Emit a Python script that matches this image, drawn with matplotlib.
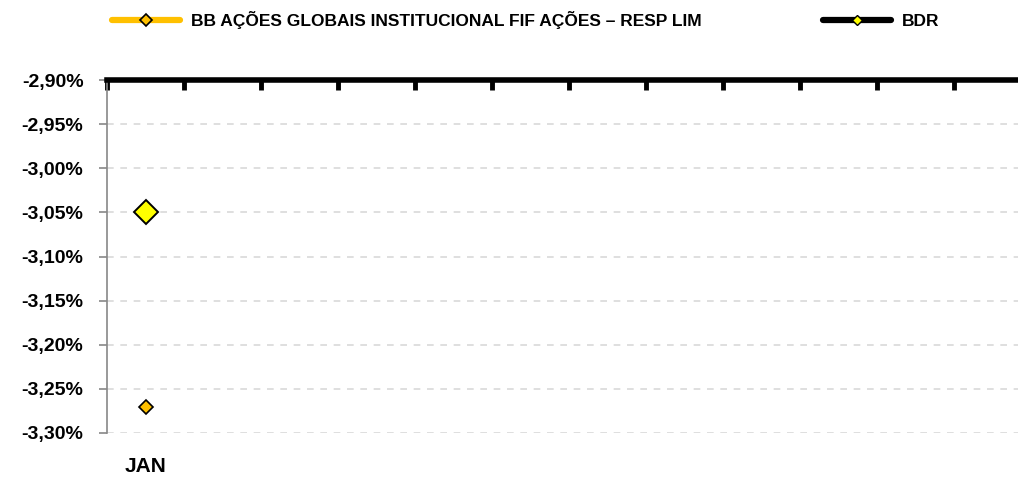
import matplotlib
matplotlib.use("Agg")
from matplotlib import pyplot as plt
from matplotlib.lines import Line2D
from matplotlib.ticker import FuncFormatter, FixedLocator
import numpy as np

plt.rcParams['font.family'] = ['Liberation Sans', 'DejaVu Sans']
plt.rcParams['font.weight'] = 'bold'

meses = ['JAN', '', '', '', '', '', '', '', '', '', '', '']
fundo = [-3.27]
bdr = [-3.05]
nome_fundo = 'BB AÇÕES GLOBAIS INSTITUCIONAL FIF AÇÕES – RESP LIM'
nome_bdr = 'BDR'
y_ticks = [-2.90, -2.95, -3.00, -3.05, -3.10, -3.15, -3.20, -3.25, -3.30]

fig = plt.figure(figsize=(10.18, 4.78), dpi=100)
ax = fig.add_axes([107 / 1018, 1 - 433 / 478, 924 / 1018, 353 / 478])

x = np.arange(len(meses)) + 0.5
ax.plot(x[:len(fundo)], fundo, color='#FFC000', lw=4, marker='D', ms=7,
        mfc='#FFC000', mec='black', mew=1.2, zorder=4)
ax.plot(x[:len(bdr)], bdr, color='black', lw=4, marker='D', ms=12,
        mfc='#FFFF00', mec='black', mew=1.4, zorder=4)

ax.set_xlim(0, len(meses))
ax.set_ylim(min(y_ticks), max(y_ticks))
ax.set_yticks(y_ticks)
ax.yaxis.set_major_formatter(FuncFormatter(lambda v, p: f'{v:.2f}%'.replace('.', ',')))
ax.tick_params(axis='y', colors='#888888', length=6, width=1.2, labelsize=14,
               labelcolor='black', pad=11)
for t in ax.get_yticklabels():
    t.set_fontweight('bold')

# eixo de categorias no topo, rótulos embaixo
ax.xaxis.set_major_locator(FixedLocator(np.arange(len(meses) + 1)))
ax.xaxis.set_minor_locator(FixedLocator(x))
ax.set_xticklabels([], minor=False)
ax.set_xticklabels(meses, minor=True)
ax.tick_params(axis='x', which='major', top=True, bottom=False, direction='in',
               length=7, width=3.5, color='black', labelbottom=False)
ax.tick_params(axis='x', which='minor', length=0, labelsize=15, pad=17)
for t in ax.get_xticklabels(minor=True):
    t.set_fontweight('bold')

ax.grid(axis='y', color='#D9D9D9', ls=(0, (4, 4)), lw=1.2)
ax.spines['top'].set_linewidth(4)
ax.spines['top'].set_color('black')
ax.spines['left'].set_color('#888888')
ax.spines['left'].set_linewidth(1.2)
ax.spines['right'].set_visible(False)
ax.spines['bottom'].set_visible(False)

# legenda com marcadores pequenos
h_fundo = Line2D([], [], color='#FFC000', lw=4.5, solid_capstyle='round',
                 marker='D', ms=6.5, mfc='#FFC000', mec='black', mew=1.2)
h_bdr = Line2D([], [], color='black', lw=4.5, solid_capstyle='round',
               marker='D', ms=5.5, mfc='#FFFF00', mec='black', mew=1.0)
fig.legend([h_fundo, h_bdr], [nome_fundo, nome_bdr],
           loc='center left', bbox_to_anchor=(112 / 1018, 1 - 20 / 478),
           ncol=2, frameon=False, handlelength=3.9, handletextpad=0.65,
           columnspacing=7.0, prop={'size': 12.5, 'weight': 'bold'},
           borderaxespad=0, borderpad=0)

fig.savefig('out.png', dpi=100)
